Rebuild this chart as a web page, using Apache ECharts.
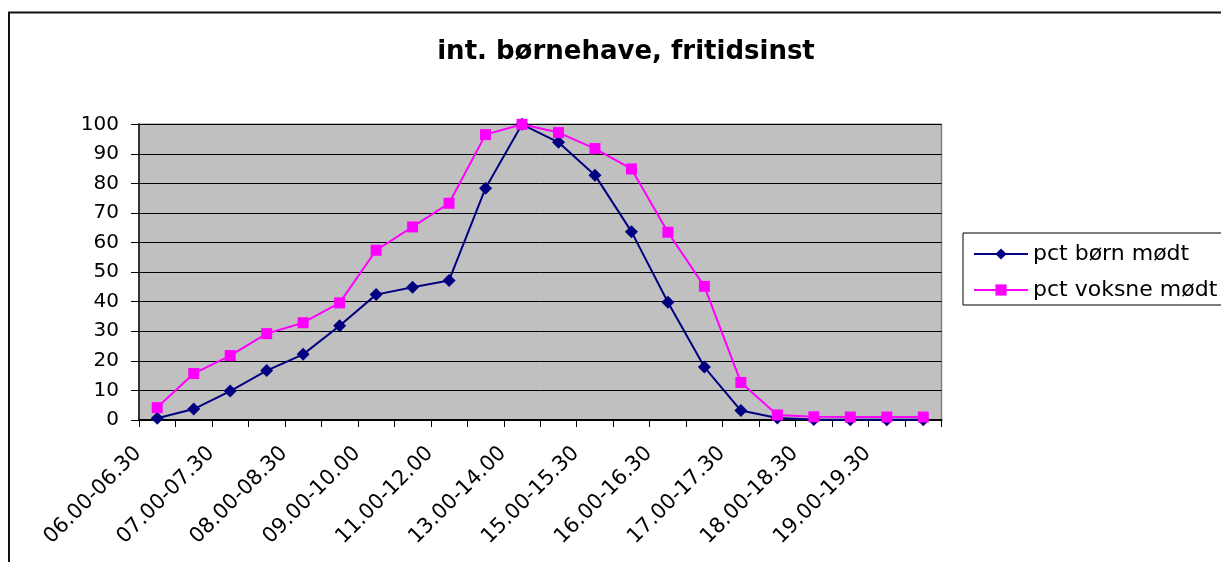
<!DOCTYPE html>
<html>
<head>
<meta charset="utf-8">
<script src="https://cdn.jsdelivr.net/npm/echarts@6/dist/echarts.min.js"></script>
<style>
  html, body { margin: 0; padding: 0; background: #fff; }
  #chart { width: 1221px; height: 562px; }
</style>
</head>
<body>
<div id="chart"></div>
<script>
const categories = [
  '06.00-06.30', '06.30-07.00', '07.00-07.30', '07.30-08.00', '08.00-08.30', '08.30-09.00',
  '09.00-10.00', '10.00-11.00', '11.00-12.00', '12.00-13.00', '13.00-14.00', '14.00-15.00',
  '15.00-15.30', '15.30-16.00', '16.00-16.30', '16.30-17.00', '17.00-17.30', '17.30-18.00',
  '18.00-18.30', '18.30-19.00', '19.00-19.30', '19.30-20.00'
]
const bornMoedt = [0.6, 3.7, 9.8, 16.7, 22.2, 31.9, 42.4, 44.9, 47.2, 78.4, 100, 93.9,
  82.8, 63.7, 39.8, 17.9, 3.2, 0.7, 0.2, 0.1, 0.1, 0.1]
const voksneMoedt = [4.2, 15.7, 21.8, 29.2, 32.9, 39.6, 57.4, 65.3, 73.3, 96.5, 100, 97.2,
  91.8, 84.9, 63.5, 45.2, 12.7, 1.7, 1.1, 1.0, 1.0, 1.0]
const seriesNames = ['pct børn mødt', 'pct voksne mødt']
const titleText = 'int. børnehave, fritidsinst'

const font = 'DejaVu Sans'
const chart = echarts.init(document.getElementById('chart'))
const option = {
  animation: false,
  backgroundColor: '#fff',
  title: {
    text: titleText,
    left: 621,
    top: 34,
    textAlign: 'center',
    textStyle: { fontFamily: font, fontSize: 26, fontWeight: 'bold', color: '#000' }
  },
  legend: {
    orient: 'vertical',
    left: 963,
    top: 233,
    padding: [10, 60, 4, 10],
    itemGap: 14,
    itemWidth: 54,
    itemHeight: 14,
    borderColor: '#000',
    borderWidth: 1,
    textStyle: { fontFamily: font, fontSize: 22, color: '#000' },
    data: seriesNames
  },
  grid: {
    left: 139,
    right: 279.5,
    top: 124.3,
    bottom: 142,
    show: true,
    backgroundColor: '#c0c0c0',
    borderColor: '#808080',
    borderWidth: 1.5
  },
  xAxis: {
    type: 'category',
    data: categories,
    boundaryGap: true,
    axisLine: { lineStyle: { color: '#000', width: 2 } },
    axisTick: { show: true, interval: 0, length: 7, lineStyle: { color: '#000', width: 1 } },
    axisLabel: {
      interval: 1,
      rotate: 45,
      margin: 11,
      padding: [0, 27, 0, 0],
      fontFamily: font,
      fontSize: 21,
      color: '#000'
    },
    splitLine: { show: false }
  },
  yAxis: {
    type: 'value',
    min: 0,
    max: 100,
    interval: 10,
    axisLine: { show: true, lineStyle: { color: '#333', width: 2 } },
    axisTick: { show: true, length: 8, lineStyle: { color: '#000', width: 1 } },
    axisLabel: { margin: 20, fontFamily: font, fontSize: 20, color: '#000' },
    splitLine: { show: true, lineStyle: { color: '#000', width: 1 } }
  },
  graphic: [{
    type: 'rect',
    shape: { x: 9, y: 12.5, width: 1400, height: 800 },
    style: { fill: 'none', stroke: '#111', lineWidth: 2 },
    silent: true,
    z: 100
  }],
  series: [
    {
      name: seriesNames[0],
      type: 'line',
      data: bornMoedt,
      symbol: 'diamond',
      symbolSize: 13,
      lineStyle: { color: '#000080', width: 2 },
      itemStyle: { color: '#000080' }
    },
    {
      name: seriesNames[1],
      type: 'line',
      data: voksneMoedt,
      symbol: 'rect',
      symbolSize: 11,
      lineStyle: { color: '#ff00ff', width: 2 },
      itemStyle: { color: '#ff00ff' }
    }
  ]
}
chart.setOption(option)
</script>
</body>
</html>
